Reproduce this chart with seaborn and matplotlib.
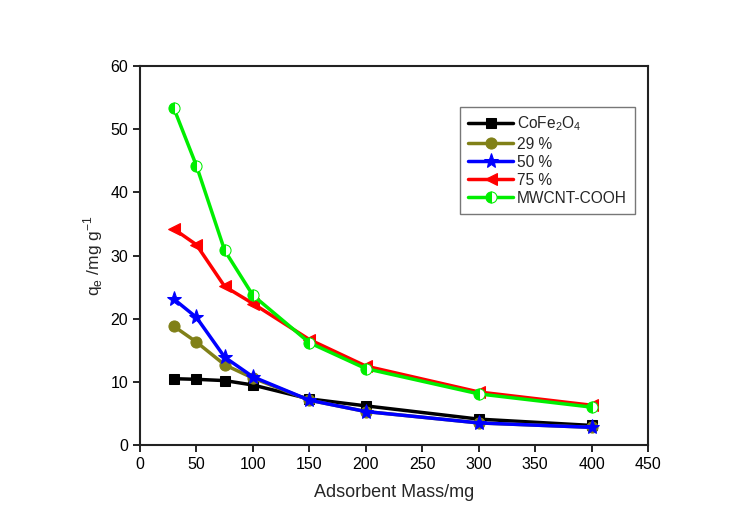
import matplotlib
matplotlib.use("Agg")
import matplotlib.pyplot as plt
import seaborn as sns
import pandas as pd

mass = [30, 50, 75, 100, 150, 200, 300, 400]
cofe2o4 = [10.5, 10.4, 10.2, 9.5, 7.3, 6.2, 4.1, 3.1]
p29 = [18.8, 16.3, 12.7, 10.6, 7.1, 5.3, 3.5, 2.8]
p50 = [23.1, 20.2, 13.9, 10.8, 7.1, 5.3, 3.5, 2.8]
p75 = [34.2, 31.7, 25.1, 22.4, 16.7, 12.5, 8.4, 6.3]
mwcnt = [53.3, 44.2, 30.8, 23.7, 16.2, 12.1, 8.1, 6.0]
labels = ["CoFe$_\\mathregular{2}$O$_\\mathregular{4}$", "29 %", "50 %", "75 %", "MWCNT-COOH"]

sns.set_style("white")
plt.rcParams['font.family'] = ['Liberation Sans', 'DejaVu Sans']
plt.rcParams['mathtext.fontset'] = 'custom'
plt.rcParams['mathtext.rm'] = 'Liberation Sans'

fig = plt.figure(figsize=(7.35, 5.23), dpi=100)
ax = fig.add_axes([0.1905, 0.1491, 0.6911, 0.7247])

series = [cofe2o4, p29, p50, p75, mwcnt]
styles = [
    dict(color="black", marker="s", markersize=7, markerfacecolor="black", markeredgecolor="black"),
    dict(color="#808018", marker="o", markersize=8, markerfacecolor="#808018", markeredgecolor="#808018"),
    dict(color="#0000ff", marker="*", markersize=11, markerfacecolor="#0000ff", markeredgecolor="#0000ff"),
    dict(color="#ff0000", marker="<", markersize=9, markerfacecolor="#ff0000", markeredgecolor="#ff0000"),
    dict(color="#00ee00", marker="o", markersize=8, markerfacecolor="#00ee00", markeredgecolor="#00ee00",
         fillstyle="left", markerfacecoloralt="white"),
]
for vals, lab, st in zip(series, labels, styles):
    df = pd.DataFrame({"mass": mass, "qe": vals})
    sns.lineplot(data=df, x="mass", y="qe", ax=ax, linewidth=2.5, label=lab, **st)

ax.set_xlim(0, 450)
ax.set_ylim(0, 60)
ax.set_xticks(range(0, 451, 50))
ax.set_yticks(range(0, 61, 10))
ax.tick_params(axis="both", direction="out", length=5, width=1.2, labelsize=11.5,
               bottom=True, left=True, top=False, right=False, colors="black")
for s in ax.spines.values():
    s.set_color("#222222")
    s.set_linewidth(1.5)
ax.set_xlabel("Adsorbent Mass/mg", fontsize=13, labelpad=9)
ax.set_ylabel("q$_\\mathregular{e}$ /mg g$^\\mathregular{-1}$", fontsize=12.5, labelpad=4)

leg = ax.legend(loc="upper right", bbox_to_anchor=(0.974, 0.892), fontsize=11.2, frameon=True,
                fancybox=False, edgecolor="#555555", handlelength=2.9, handletextpad=0.25,
                labelspacing=0.2, borderpad=0.5, borderaxespad=0.0)
leg.get_frame().set_linewidth(1.0)

fig.savefig("out.png", dpi=100)
